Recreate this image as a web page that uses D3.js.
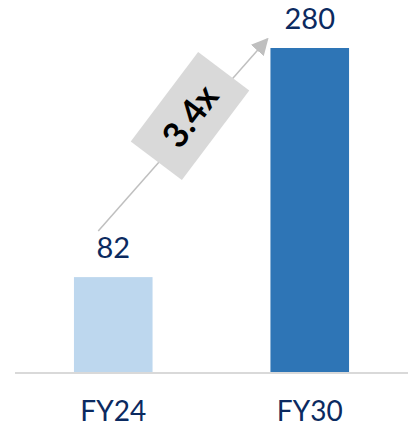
<!DOCTYPE html>
<html>
<head>
<meta charset="utf-8">
<script src="https://cdn.jsdelivr.net/npm/d3@7"></script>
<style>
  body { margin: 0; background: #fff; }
  text { font-family: Lato, "Open Sans", sans-serif; }
</style>
</head>
<body>
<svg width="408" height="426"></svg>
<script>
// The svg
const svg = d3.select("svg"),
	width = +svg.attr("width"),
	height = +svg.attr("height");

// Data
const categories = ["FY24", "FY30"]
const values = [82, 280]
const barColors = ["#bdd7ee", "#2e75b6"]
const growthLabel = "3.4x"

const x = d3.scaleBand()
	.domain(categories)
	.range([15, 408])
	.paddingInner(0.6)
	.paddingOuter(0.3)

const y = d3.scaleLinear()
	.domain([0, 280])
	.range([372, 48])

// bars
svg.append("g")
	.selectAll("rect")
	.data(values)
	.join("rect")
	.attr("x", (d, i) => x(categories[i]))
	.attr("y", d => y(d))
	.attr("width", x.bandwidth())
	.attr("height", d => y(0) - y(d))
	.attr("fill", (d, i) => barColors[i])

// baseline
svg.append("line")
	.attr("x1", x.range()[0])
	.attr("x2", x.range()[1])
	.attr("y1", y(0) + 1)
	.attr("y2", y(0) + 1)
	.attr("stroke", "#d9d9d9")
	.attr("stroke-width", 2)

// value labels
svg.append("g")
	.selectAll("text")
	.data(values)
	.join("text")
	.attr("x", (d, i) => x(categories[i]) + x.bandwidth() / 2)
	.attr("y", d => y(d) - 19)
	.attr("text-anchor", "middle")
	.attr("font-size", 29)
	.attr("fill", "#0b2a60")
	.text(d => d)

// category labels
svg.append("g")
	.selectAll("text")
	.data(categories)
	.join("text")
	.attr("x", d => x(d) + x.bandwidth() / 2)
	.attr("y", y(0) + 49)
	.attr("text-anchor", "middle")
	.attr("font-size", 28)
	.attr("fill", "#0b2a60")
	.text(d => d)

// growth arrow
const x0 = x(categories[0]) + x.bandwidth() / 2 - 15,
	y0 = y(values[0]) - 46,
	x1 = x(categories[1]) - 3,
	y1 = y(values[1]) - 9

svg.append("defs").append("marker")
	.attr("id", "head")
	.attr("viewBox", "0 0 10 10")
	.attr("refX", 9)
	.attr("refY", 5)
	.attr("markerUnits", "userSpaceOnUse")
	.attr("markerWidth", 17)
	.attr("markerHeight", 17)
	.attr("orient", "auto")
	.append("path")
	.attr("d", "M0,0 L10,5 L0,10 Z")
	.attr("fill", "#bfbfbf")

svg.append("line")
	.attr("x1", x0)
	.attr("y1", y0)
	.attr("x2", x1)
	.attr("y2", y1)
	.attr("stroke", "#bfbfbf")
	.attr("stroke-width", 1.5)
	.attr("marker-end", "url(#head)")

const cx = 190, cy = 116, angle = -53
const badge = svg.append("g")
	.attr("transform", `translate(${cx},${cy}) rotate(${angle})`)

badge.append("rect")
	.attr("x", -56)
	.attr("y", -32)
	.attr("width", 112)
	.attr("height", 64)
	.attr("fill", "#d9d9d9")

badge.append("text")
	.attr("x", 0)
	.attr("y", 0)
	.attr("dy", "0.36em")
	.attr("text-anchor", "middle")
	.attr("font-size", 35)
	.attr("font-weight", "bold")
	.attr("fill", "#000")
	.text(growthLabel)
</script>
</body>
</html>
